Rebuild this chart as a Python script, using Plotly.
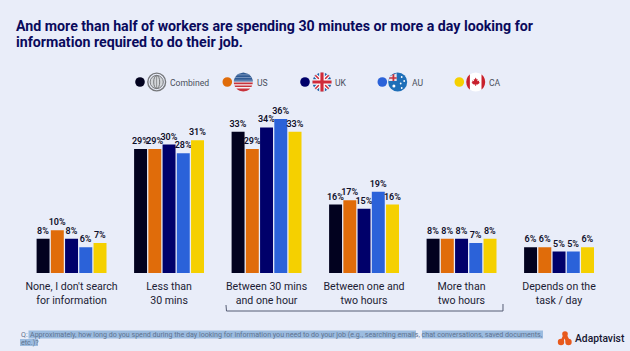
import math
import plotly.graph_objects as go

W, H = 630, 351
categories = ["None, I don't search<br>for information", "Less than<br>30 mins", "Between 30 mins<br>and one hour",
              "Between one and<br>two hours", "More than<br>two hours", "Depends on the<br>task / day"]
combined = [8, 29, 33, 16, 8, 6]
us = [10, 29, 29, 17, 8, 6]
uk = [8, 30, 34, 15, 8, 5]
au = [6, 28, 36, 19, 7, 5]
ca = [7, 31, 33, 16, 8, 6]
series_names = ["Combined", "US", "UK", "AU", "CA"]
series_values = [combined, us, uk, au, ca]
series_colors = ["#02021f", "#e06c0a", "#00006a", "#2b62d9", "#f5d000"]
title_lines = ["And more than half of workers are spending 30 minutes or more a day looking for",
               "information required to do their job."]
note_q = "Q:"
note_1 = "Approximately, how long do you spend during the day looking for information you need to do your job (e.g., searching emails, chat conversations, saved documents,"
note_2 = "etc.)?"

BG = "#e9edf9"
px = lambda x: x / W
py = lambda y: 1 - y / H

fig = go.Figure()
for name, vals, col in zip(series_names, series_values, series_colors):
    fig.add_trace(go.Bar(name=name, x=categories, y=vals, marker_color=col, marker_line_width=0,
                         text=[f"{v}%" for v in vals], textposition="outside", cliponaxis=False,
                         constraintext="none", textangle=0,
                         textfont=dict(family="Roboto", size=9, color="#10102a", weight=600),
                         showlegend=False))

shapes, annots = [], []

def text(x, y, s, size, color, anchor="left", **font):
    annots.append(dict(x=px(x), y=py(y), xref="paper", yref="paper", text=s, showarrow=False, xanchor=anchor,
                       yanchor="middle", borderpad=0, font=dict(family="Roboto", size=size, color=color, **font)))

def poly(points, fill, line=None, w=0):
    d = "M" + " L".join(f"{px(a):.5f},{py(b):.5f}" for a, b in points) + " Z"
    shapes.append(dict(type="path", xref="paper", yref="paper", path=d, fillcolor=fill,
                       line=dict(color=line or fill, width=w)))

def disc(cx, cy, r, fill, line=None, w=0):
    shapes.append(dict(type="circle", xref="paper", yref="paper", x0=px(cx - r), x1=px(cx + r),
                       y0=py(cy + r), y1=py(cy - r), fillcolor=fill, line=dict(color=line or fill, width=w)))

def band(cx, cy, r, a, b, fill, angle=0):
    # part of a circle between offsets a and b from its centre, rotated by angle
    pts = []
    for i in range(9):
        v = a + (b - a) * i / 8
        pts.append((math.sqrt(max(r * r - v * v, 0)), v))
    for i in range(9):
        v = b - (b - a) * i / 8
        pts.append((-math.sqrt(max(r * r - v * v, 0)), v))
    c, s = math.cos(angle), math.sin(angle)
    poly([(cx + u * c - v * s, cy + u * s + v * c) for u, v in pts], fill)

LY = 82
R = 9.5

# legend dots and labels
dot_x = [140, 227.3, 305, 382.3, 459.3]
flag_x = [156.7, 243.3, 322, 397.7, 475.7]
text_x = [168.7, 255.7, 333.7, 411, 488]
for name, col, dx, tx in zip(series_names, series_colors, dot_x, text_x):
    disc(dx, LY, 4.8, col)
    text(tx, LY + 0.5, name, 8.6, "#4a4f5c")

# Combined globe
cx = flag_x[0]
disc(cx, LY, R - 0.6, "#e9edf9", "#77797c", 1.4)
disc(cx, LY, 6.6, "#d2d5d9", "#77797c", 1)
shapes.append(dict(type="circle", xref="paper", yref="paper", x0=px(cx - 3), x1=px(cx + 3), y0=py(LY + 6.6),
                   y1=py(LY - 6.6), fillcolor="rgba(0,0,0,0)", line=dict(color="#77797c", width=1)))
band(cx, LY, 6.4, -0.35, 0.35, "#77797c", math.pi / 2)

# US flag
cx = flag_x[1]
disc(cx, LY, R, "#f4f2f4")
band(cx, LY, R, -R, -0.5, "#2f5a94")
for i in range(3):
    band(cx, LY, R, -R + 2 + i * 2.6, -R + 2.7 + i * 2.6, "#8ba3c8")
for a, b in [(0.6, 2.2), (3.4, 5), (6.4, R)]:
    band(cx, LY, R, a, b, "#c8323c")

# UK flag
cx = flag_x[2]
disc(cx, LY, R, "#1f5fa8")
for ang in (math.pi / 4, -math.pi / 4):
    band(cx, LY, R, -1.9, 1.9, "#ffffff", ang)
for ang in (math.pi / 4, -math.pi / 4):
    band(cx, LY, R, -0.8, 0.8, "#cf2a3a", ang)
band(cx, LY, R, -2.8, 2.8, "#ffffff")
band(cx, LY, R, -2.8, 2.8, "#ffffff", math.pi / 2)
band(cx, LY, R, -1.6, 1.6, "#cf2a3a")
band(cx, LY, R, -1.6, 1.6, "#cf2a3a", math.pi / 2)

# AU flag
cx = flag_x[3]
disc(cx, LY, R, "#1f6fb8")
poly([(cx - 7.5, LY - 6), (cx - 1, LY - 8.8), (cx - 1, LY - 1), (cx - 9, LY - 1)], "#e8e4ee")
poly([(cx - 5.2, LY - 7.4), (cx - 3.4, LY - 8), (cx - 3.4, LY - 1), (cx - 5.2, LY - 1)], "#c8323c")
poly([(cx - 8, LY - 4.7), (cx - 1, LY - 4.7), (cx - 1, LY - 3.2), (cx - 8.6, LY - 3.2)], "#c8323c")
disc(cx - 3.8, LY + 4, 1.5, "#ffffff")
disc(cx + 4, LY - 5, 0.9, "#ffffff")
disc(cx + 6.5, LY - 1, 0.9, "#ffffff")
disc(cx + 3, LY + 1.5, 0.9, "#ffffff")
disc(cx + 4, LY + 6, 0.9, "#ffffff")

# CA flag
cx = flag_x[4]
disc(cx, LY, R, "#ffffff")
band(cx, LY, R, 5.8, R, "#c8202c", math.pi / 2)
band(cx, LY, R, -R, -5.8, "#c8202c", math.pi / 2)
leaf = [(0, -4.5), (1, -2.6), (2, -3), (1.6, -0.8), (3.6, -1.6), (3.2, 0), (4.2, 0.8), (2, 2.4), (0.4, 2.4),
        (0.4, 4), (-0.4, 4), (-0.4, 2.4), (-2, 2.4), (-4.2, 0.8), (-3.2, 0), (-3.6, -1.6), (-1.6, -0.8),
        (-2, -3), (-1, -2.6)]
poly([(cx + a, LY + b) for a, b in leaf], "#c8202c")

# bracket under the middle categories
d = f"M{px(226):.5f},{py(305):.5f} L{px(226.5):.5f},{py(311):.5f} L{px(503):.5f},{py(311):.5f} L{px(503):.5f},{py(304):.5f}"
shapes.append(dict(type="path", xref="paper", yref="paper", path=d, line=dict(color="#555c74", width=1)))

# footnote highlight
HL = "#9cbce0"
for x0, x1, y0, y1 in [(28.5, 416, 330.5, 338.5), (422, 543, 330.5, 338.5), (20, 38, 339, 346)]:
    shapes.append(dict(type="rect", xref="paper", yref="paper", x0=px(x0), x1=px(x1), y0=py(y1), y1=py(y0),
                       fillcolor=HL, line=dict(width=0), layer="below"))
FOOT = "#5f7390"
text(20, 334.5, note_q, 7.1, FOOT)
text(28.5, 334.5, note_1, 7.1, FOOT)
text(20, 342.5, note_2, 7.1, FOOT)

# title
TITLE = "#0a0a5c"
text(15, 25.7, title_lines[0], 14.2, TITLE, weight=700)
text(15, 42, title_lines[1], 14.2, TITLE, weight=700)

# Adaptavist logo
OR = "#e8591c"
disc(561, 342, 3.2, OR)
disc(568.5, 342, 3.2, OR)
poly([(561, 340), (564, 333), (566.5, 334), (570, 341), (566.5, 343), (564.5, 338.5), (563, 343)], OR)
disc(565, 334, 2.8, OR)
text(574, 338, "Adaptavist", 10.3, "#151530", weight=500)

fig.update_layout(
    width=W, height=H, autosize=False, margin=dict(l=0, r=0, t=0, b=0),
    paper_bgcolor=BG, plot_bgcolor=BG, barmode="group", bargap=0.27, bargroupgap=0.09,
    shapes=shapes, annotations=annots, showlegend=False,
    xaxis=dict(domain=[px(22.8), px(607.8)], showgrid=False, showline=False, zeroline=False,
               ticks="outside", ticklen=3, tickcolor=BG,
               tickfont=dict(family="Roboto", size=10.6, color="#1c1c34"), tickangle=0, automargin=False),
    yaxis=dict(domain=[py(273), py(100)], range=[0, 173 / 4.28], visible=False, showgrid=False, zeroline=False),
)
fig.write_html("out.html", config=dict(displayModeBar=False),
               post_script="document.body.style.margin='0';document.body.style.overflow='hidden';")
